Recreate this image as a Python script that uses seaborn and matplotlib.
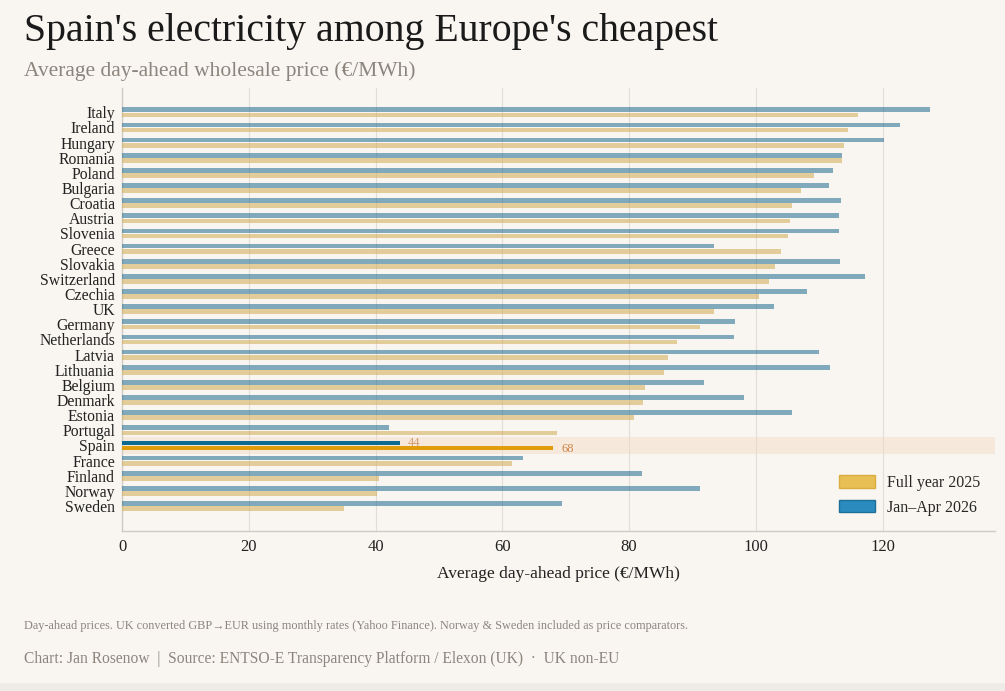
import numpy as np
import pandas as pd
import matplotlib
matplotlib.use("Agg")
import matplotlib.pyplot as plt
from matplotlib.patches import Patch, Rectangle
import seaborn as sns

countries = ["Italy", "Ireland", "Hungary", "Romania", "Poland", "Bulgaria", "Croatia",
             "Austria", "Slovenia", "Greece", "Slovakia", "Switzerland", "Czechia", "UK",
             "Germany", "Netherlands", "Latvia", "Lithuania", "Belgium", "Denmark",
             "Estonia", "Portugal", "Spain", "France", "Finland", "Norway", "Sweden"]
full_2025 = [116.1, 114.5, 113.9, 113.6, 109.2, 107.1, 105.7, 105.3, 105.0, 103.9, 103.0,
             102.0, 100.5, 93.4, 91.1, 87.6, 86.1, 85.5, 82.5, 82.2, 80.7, 68.6, 68.0,
             61.5, 40.5, 40.2, 35.0]
janapr_2026 = [127.5, 122.7, 120.2, 113.6, 112.1, 111.5, 113.4, 113.1, 113.1, 93.4, 113.2,
               117.2, 108.1, 102.8, 96.7, 96.5, 109.9, 111.7, 91.8, 98.1, 105.7, 42.1, 43.8,
               63.3, 82.1, 91.1, 69.4]
series_names = ["Jan–Apr 2026", "Full year 2025"]
highlight = "Spain"

BG = "#f9f6f1"
BLUE = "#1f7caa"
GOLD = "#e8b84a"
BLUE_HL = "#0e6a8e"
GOLD_HL = "#e09c0a"
LABEL_C = "#c9864a"

df = pd.DataFrame({
    "country": countries * 2,
    "value": janapr_2026 + full_2025,
    "series": [series_names[0]] * len(countries) + [series_names[1]] * len(countries),
})

sns.set_theme(style="white")
plt.rcParams["font.family"] = ["Liberation Serif", "DejaVu Serif"]

fig = plt.figure(figsize=(10.05, 6.91), dpi=100, facecolor=BG)
ax = fig.add_axes([0.1214, 0.2315, 0.8686, 0.641])
ax.set_facecolor(BG)

sns.barplot(data=df, y="country", x="value", hue="series", hue_order=series_names,
            order=countries, orient="h", palette=[BLUE, GOLD], width=0.68, gap=0.08,
            alpha=0.6, errorbar=None, ax=ax, legend=False, zorder=3, linewidth=0)

hi = countries.index(highlight)
hl_cols = [BLUE_HL, GOLD_HL]
for k, cont in enumerate(ax.containers):
    p = cont.patches[hi]
    p.set_facecolor(hl_cols[k])
    p.set_alpha(1.0)
    yc = p.get_y() + p.get_height() / 2
    ax.text(p.get_width() + 1.3, yc + (0.05 if k else 0.0), f"{p.get_width():.0f}",
            color=LABEL_C, fontsize=9, va="center", ha="left",
            alpha=(0.75 if k == 0 else 1.0), zorder=5)

ax.axhspan(hi - 0.56, hi + 0.56, color="#f3d9c0", alpha=0.45, zorder=1, lw=0)

ax.set_xlim(0, 137.7)
ax.set_ylim(len(countries) - 1 + 1.65, -1.6)
ax.set_xticks([0, 20, 40, 60, 80, 100, 120])
ax.xaxis.grid(True, color="#e2ddd6", lw=0.8, zorder=0)
ax.set_axisbelow(True)
for s in ["top", "right"]:
    ax.spines[s].set_visible(False)
for s in ["left", "bottom"]:
    ax.spines[s].set_color("#cfcac3")
    ax.spines[s].set_linewidth(1.0)
ax.tick_params(axis="y", length=0, pad=5, labelsize=11.3, labelcolor="#222222")
ax.tick_params(axis="x", length=0, pad=6, labelsize=12, labelcolor="#222222")
ax.set_ylabel("")
ax.set_xlabel("Average day-ahead price (€/MWh)", fontsize=12.5, color="#222222", labelpad=8)

handles = [Patch(facecolor="#e8bf55", edgecolor="#d9ad3f", label="Full year 2025"),
           Patch(facecolor="#2a8bbf", edgecolor="#1d6f9a", label="Jan–Apr 2026")]
ax.legend(handles=handles, loc="lower right", bbox_to_anchor=(1.0, 0.002), frameon=False,
          fontsize=11.5, handlelength=2.2, handleheight=0.8, labelspacing=0.55,
          handletextpad=0.8)

fig.text(0.024, 0.9407, "Spain's electricity among Europe's cheapest", fontsize=28.6,
         color="#1a1a1a", ha="left", va="baseline")
fig.text(0.024, 0.890, "Average day-ahead wholesale price (€/MWh)", fontsize=15.5,
         color="#8c857d", ha="left", va="baseline")
fig.text(0.024, 0.090, "Day-ahead prices. UK converted GBP→EUR using monthly rates (Yahoo Finance). "
         "Norway & Sweden included as price comparators.", fontsize=8.8, color="#8c857d",
         ha="left", va="baseline")
fig.text(0.024, 0.040, "Chart: Jan Rosenow  |  Source: ENTSO-E Transparency Platform / Elexon (UK)  ·  UK non-EU",
         fontsize=11.2, color="#8c857d", ha="left", va="baseline")
fig.patches.append(Rectangle((0, 0), 1, 0.012, transform=fig.transFigure,
                             facecolor="#efece8", edgecolor="none", zorder=0))

fig.savefig("out.png", dpi=100, facecolor=BG)
